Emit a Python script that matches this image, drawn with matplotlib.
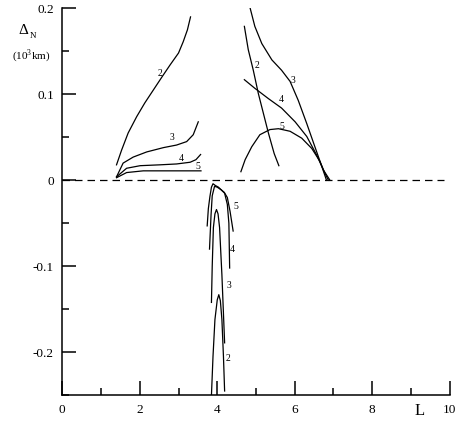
import matplotlib
matplotlib.use("Agg")
import matplotlib.pyplot as plt
from matplotlib.ticker import MultipleLocator

plt.rcParams['font.family'] = ['Liberation Serif', 'DejaVu Serif']
plt.rcParams['mathtext.fontset'] = 'custom'
plt.rcParams['mathtext.rm'] = 'Liberation Serif'

# ---- data (L, Delta_N in 10^3 km) ----
# left upper group (positive)
up_left_2_L = [1.40, 1.53, 1.70, 1.92, 2.13, 2.35, 2.57, 2.78, 3.00, 3.12, 3.23, 3.31]
up_left_2_D = [0.018, 0.035, 0.055, 0.074, 0.090, 0.105, 0.120, 0.134, 0.148, 0.161, 0.175, 0.190]
up_left_3_L = [1.40, 1.57, 1.83, 2.18, 2.61, 2.95, 3.21, 3.38, 3.51]
up_left_3_D = [0.004, 0.020, 0.027, 0.033, 0.038, 0.041, 0.045, 0.053, 0.068]
up_left_4_L = [1.40, 1.66, 2.01, 2.52, 2.95, 3.30, 3.45, 3.57]
up_left_4_D = [0.004, 0.014, 0.017, 0.018, 0.019, 0.021, 0.024, 0.030]
up_left_5_L = [1.40, 1.66, 2.09, 2.78, 3.58]
up_left_5_D = [0.003, 0.009, 0.011, 0.011, 0.011]

# right upper group (positive)
up_right_2_L = [4.70, 4.80, 4.93, 5.06, 5.19, 5.32, 5.47, 5.59]
up_right_2_D = [0.179, 0.152, 0.128, 0.101, 0.078, 0.055, 0.031, 0.017]
up_right_3_L = [4.85, 4.97, 5.15, 5.41, 5.66, 5.88, 6.09, 6.31, 6.52, 6.70, 6.82]
up_right_3_D = [0.200, 0.179, 0.159, 0.140, 0.128, 0.115, 0.093, 0.066, 0.039, 0.016, 0.000]
up_right_4_L = [4.70, 4.97, 5.32, 5.66, 6.01, 6.31, 6.57, 6.74, 6.91]
up_right_4_D = [0.117, 0.107, 0.095, 0.084, 0.068, 0.051, 0.029, 0.012, 0.000]
up_right_5_L = [4.61, 4.72, 4.89, 5.10, 5.36, 5.58, 5.88, 6.18, 6.44, 6.65, 6.78, 6.87]
up_right_5_D = [0.010, 0.024, 0.039, 0.053, 0.059, 0.060, 0.057, 0.049, 0.037, 0.022, 0.008, 0.000]

# lower group (negative, near L = 4)
low_5_L = [3.74, 3.77, 3.81, 3.85, 3.89, 3.95, 4.03, 4.10, 4.18, 4.26, 4.33, 4.41]
low_5_D = [-0.053, -0.033, -0.019, -0.008, -0.004, -0.006, -0.008, -0.011, -0.014, -0.020, -0.036, -0.059]
low_4_L = [3.80, 3.82, 3.84, 3.87, 3.93, 4.00, 4.10, 4.19, 4.26, 4.30, 4.32]
low_4_D = [-0.080, -0.060, -0.040, -0.018, -0.007, -0.008, -0.011, -0.015, -0.028, -0.050, -0.102]
low_3_L = [3.85, 3.87, 3.90, 3.94, 3.98, 4.02, 4.06, 4.12, 4.19]
low_3_D = [-0.142, -0.100, -0.055, -0.039, -0.034, -0.039, -0.055, -0.110, -0.189]
low_2_L = [3.85, 3.89, 3.94, 4.00, 4.04, 4.08, 4.12, 4.16, 4.19]
low_2_D = [-0.250, -0.205, -0.162, -0.139, -0.133, -0.140, -0.162, -0.205, -0.245]

curves = [
    (up_left_2_L, up_left_2_D), (up_left_3_L, up_left_3_D),
    (up_left_4_L, up_left_4_D), (up_left_5_L, up_left_5_D),
    (up_right_2_L, up_right_2_D), (up_right_3_L, up_right_3_D),
    (up_right_4_L, up_right_4_D), (up_right_5_L, up_right_5_D),
    (low_5_L, low_5_D), (low_4_L, low_4_D), (low_3_L, low_3_D), (low_2_L, low_2_D),
]

curve_labels = ['2', '3', '4', '5', '2', '3', '4', '5', '5', '4', '3', '2']
label_L = [2.52, 2.84, 3.06, 3.49, 5.02, 5.96, 5.66, 5.68, 4.48, 4.39, 4.29, 4.29]
label_D = [0.124, 0.0495, 0.0256, 0.0158, 0.133, 0.1164, 0.094, 0.063, -0.031, -0.081, -0.122, -0.207]

x_ticks = [0, 2, 4, 6, 8, 10]
y_ticks = [-0.2, -0.1, 0, 0.1, 0.2]
y_tick_labels = ['-0.2', '-0.1', '0', '0.1', '0.2']

fig = plt.figure(figsize=(4.56, 4.24), dpi=100)
ax = fig.add_axes([0.1366, 0.0677, 0.8496, 0.9127])

for (xs, ys) in curves:
    ax.plot(xs, ys, color='black', lw=0.9, solid_joinstyle='round')

ax.plot([0, 9.85], [0, 0], color='black', lw=0.9, dashes=(6, 4))

for t, lx, ly in zip(curve_labels, label_L, label_D):
    ax.text(lx, ly, t, fontsize=7, ha='center', va='center')

ax.set_xlim(0, 10)
ax.set_ylim(-0.25, 0.2)
ax.spines['top'].set_visible(False)
ax.spines['right'].set_visible(False)
ax.spines['left'].set_linewidth(1.1)
ax.spines['bottom'].set_linewidth(1.1)

ax.set_xticks(x_ticks)
ax.set_xticklabels([str(v) for v in x_ticks])
ax.set_yticks(y_ticks)
ax.set_yticklabels(y_tick_labels)
ax.xaxis.set_minor_locator(MultipleLocator(1))
ax.yaxis.set_minor_locator(MultipleLocator(0.05))
ax.tick_params(which='major', direction='in', length=10, width=1.1, labelsize=9.5, pad=6)
ax.tick_params(which='minor', direction='in', length=5, width=1.1)

ax.text(9.22, -0.268, 'L', fontsize=12, ha='center', va='center', clip_on=False)

fig.text(23 / 456, 1 - 30 / 424, '\u0394', fontsize=11, ha='center', va='center')
fig.text(33 / 456, 1 - 36 / 424, 'N', fontsize=6.5, ha='center', va='center')
fig.text(31 / 456, 1 - 56 / 424, '(10$^{3}$km)', fontsize=8, ha='center', va='center')

fig.savefig('out.png', dpi=100)
